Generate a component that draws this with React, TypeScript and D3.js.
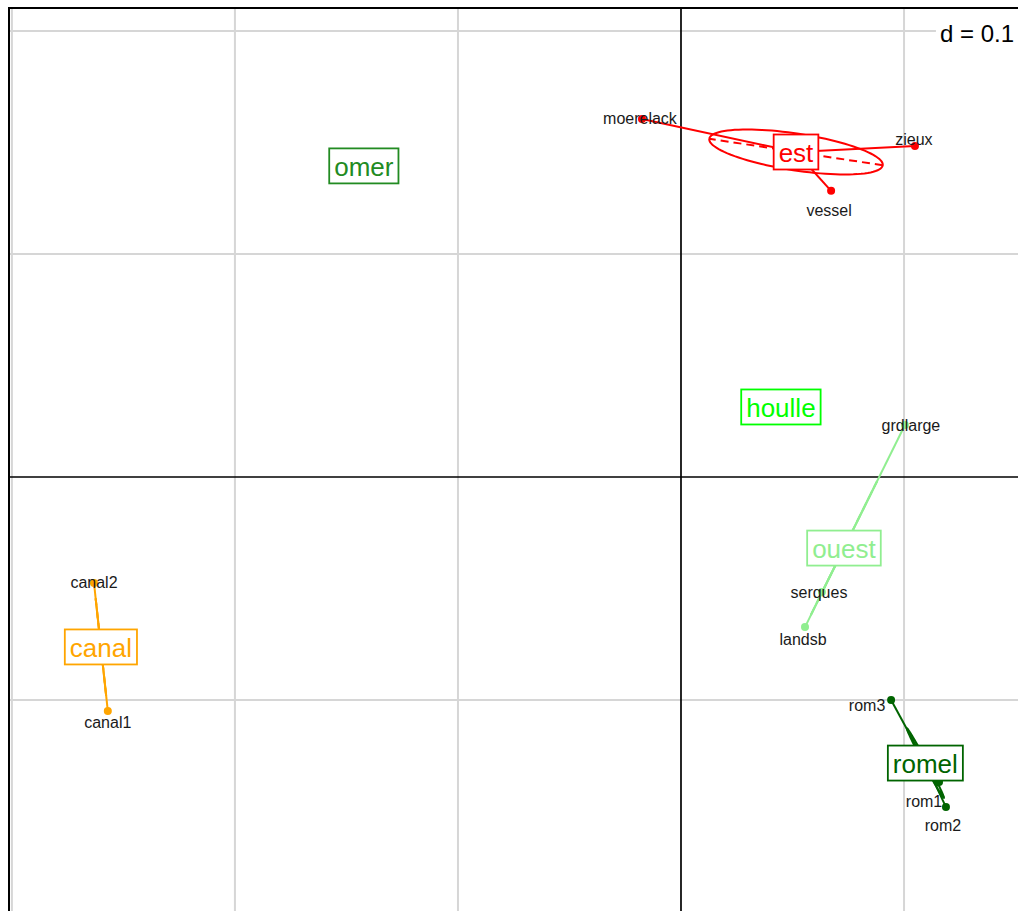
import React from 'react';
import * as d3 from 'd3';

// Group levels and their colours
const groups = ['est', 'omer', 'houlle', 'ouest', 'canal', 'romel'];
const groupColors = ['#FF0000', '#228B22', '#00FF00', '#90EE90', '#FFA500', '#006400'];

// Sites (rows) with their scores on the two axes
const siteNames = ['moerelack', 'zieux', 'vessel', 'grdlarge', 'serques', 'landsb', 'canal2', 'canal1', 'rom3', 'rom1', 'rom2'];
const siteGroup = ['est', 'est', 'est', 'ouest', 'ouest', 'ouest', 'canal', 'canal', 'romel', 'romel', 'romel'];
const siteX = [-0.0175, 0.1049, 0.0673, 0.1004, 0.0632, 0.0556, -0.2632, -0.2570, 0.0942, 0.1157, 0.1188];
const siteY = [0.1605, 0.1484, 0.1283, 0.0233, -0.0516, -0.0673, -0.0475, -0.1049, -0.1000, -0.1368, -0.1480];

// Levels with no site shown: label position only
const emptyGroups = ['omer', 'houlle'];
const emptyGroupX = [-0.1422, 0.0448];
const emptyGroupY = [0.1395, 0.0314];

// Grid
const gridX = [-0.3, -0.2, -0.1, 0.1];
const gridY = [0.2, 0.1, -0.1];
const gridLabel = 'd = 0.1';

// Plot limits
const xLim = [-0.3013, 0.1511];
const yLim = [-0.1946, 0.2103];

// Layout / style
const W = 1018;
const H = 911;
const FONT = '"Liberation Sans", Arial, Helvetica, sans-serif';
const ELLIPSE_COEF = 0.76;
// label nudges in pixels, one per site
const labelDx = [-2, -1, -2, 6, -3, -2, 0, 0, -24, -15, -3];
const labelDy = [-1, -7, 20, 0, 0, 12, 0, 12, 5, 19, 18];

const measure = (() => {
  let ctx: CanvasRenderingContext2D | null = null;
  return (text: string, size: number) => {
    if (!ctx) ctx = document.createElement('canvas').getContext('2d');
    if (!ctx) return text.length * size * 0.55;
    ctx.font = `${size}px "Liberation Sans", Arial, sans-serif`;
    return ctx.measureText(text).width;
  };
})();

export default function App() {
  const x = d3.scaleLinear().domain(xLim).range([9, W]);
  const y = d3.scaleLinear().domain(yLim).range([H, 8]);
  const color = d3.scaleOrdinal<string, string>().domain(groups).range(groupColors);

  const sites = siteNames.map((name, i) => ({ name, g: siteGroup[i], x: siteX[i], y: siteY[i], i }));
  const grouped = d3.group(sites, (d) => d.g);

  type Stat = { g: string; cx: number; cy: number; pts: typeof sites; ell: any };
  const stats: Stat[] = [];
  grouped.forEach((pts, g) => {
    const n = pts.length;
    const cx = d3.mean(pts, (p) => p.x)!;
    const cy = d3.mean(pts, (p) => p.y)!;
    const vx = d3.sum(pts, (p) => (p.x - cx) ** 2) / n;
    const vy = d3.sum(pts, (p) => (p.y - cy) ** 2) / n;
    const cxy = d3.sum(pts, (p) => (p.x - cx) * (p.y - cy)) / n;
    const delta = Math.sqrt((vx - vy) ** 2 + 4 * cxy * cxy);
    const l1 = (vx + vy + delta) / 2;
    const l2 = Math.max((vx + vy - delta) / 2, 0);
    const theta = Math.abs(cxy) < 1e-12 ? (vx >= vy ? 0 : Math.PI / 2) : Math.atan2(l1 - vx, cxy);
    const a = ELLIPSE_COEF * Math.sqrt(l1);
    const b = ELLIPSE_COEF * Math.sqrt(l2);
    const ux = Math.cos(theta), uy = Math.sin(theta);
    const outline = d3.range(0, 101).map((k) => {
      const t = (k / 100) * 2 * Math.PI;
      const px = cx + a * Math.cos(t) * ux - b * Math.sin(t) * uy;
      const py = cy + a * Math.cos(t) * uy + b * Math.sin(t) * ux;
      return [x(px), y(py)] as [number, number];
    });
    stats.push({
      g, cx, cy, pts,
      ell: {
        path: d3.line()(outline),
        major: [[cx - a * ux, cy - a * uy], [cx + a * ux, cy + a * uy]],
        minor: [[cx + b * uy, cy - b * ux], [cx - b * uy, cy + b * ux]],
      },
    });
  });

  const labels = [
    ...stats.map((s) => ({ g: s.g, x: s.cx, y: s.cy })),
    ...emptyGroups.map((g, i) => ({ g, x: emptyGroupX[i], y: emptyGroupY[i] })),
  ];

  const gridColor = '#D6D6D6';
  const dW = measure(gridLabel, 24);

  return (
    <svg width={W} height={H} style={{ position: 'absolute', left: 0, top: 0, background: '#fff' }} fontFamily={FONT}>
      <rect x={0} y={0} width={W} height={H} fill="#fff" />
      {/* grid */}
      {gridX.map((v) => (
        <line key={'gx' + v} x1={x(v)} x2={x(v)} y1={8} y2={H} stroke={gridColor} strokeWidth={2} />
      ))}
      {gridY.map((v) => (
        <line key={'gy' + v} x1={9} x2={W} y1={y(v)} y2={y(v)} stroke={gridColor} strokeWidth={2} />
      ))}
      {/* axes through the origin */}
      <line x1={x(0)} x2={x(0)} y1={8} y2={H} stroke="#000" strokeWidth={1.7} />
      <line x1={9} x2={W} y1={y(0)} y2={y(0)} stroke="#000" strokeWidth={1.7} />
      {/* frame */}
      <line x1={9} x2={9} y1={7} y2={H} stroke="#000" strokeWidth={2} />
      <line x1={8} x2={W} y1={8} y2={8} stroke="#000" strokeWidth={2} />

      {/* ellipses */}
      {stats.map((s) => (
        <g key={'e' + s.g} stroke={color(s.g)} fill="none" strokeWidth={2}>
          <path d={s.ell.path} />
          <line x1={x(s.ell.major[0][0])} y1={y(s.ell.major[0][1])} x2={x(s.ell.major[1][0])} y2={y(s.ell.major[1][1])} strokeDasharray="8,5" />
          <line x1={x(s.ell.minor[0][0])} y1={y(s.ell.minor[0][1])} x2={x(s.ell.minor[1][0])} y2={y(s.ell.minor[1][1])} strokeDasharray="8,5" />
        </g>
      ))}

      {/* stars */}
      {stats.map((s) => (
        <g key={'s' + s.g} stroke={color(s.g)} strokeWidth={2}>
          {s.pts.map((p) => (
            <line key={p.name} x1={x(s.cx)} y1={y(s.cy)} x2={x(p.x)} y2={y(p.y)} />
          ))}
        </g>
      ))}

      {/* points */}
      {sites.map((p) => (
        <circle key={'p' + p.name} cx={x(p.x)} cy={y(p.y)} r={4} fill={color(p.g)} />
      ))}

      {/* group labels */}
      {labels.map((l) => {
        const tw = measure(l.g, 26);
        const bw = tw + 10;
        const bh = 35;
        return (
          <g key={'l' + l.g}>
            <rect x={x(l.x) - bw / 2} y={y(l.y) - bh / 2} width={bw} height={bh} fill="#fff" stroke={color(l.g)} strokeWidth={1.8} />
            <text x={x(l.x)} y={y(l.y) + 10} textAnchor="middle" fontSize={26} fill={color(l.g)}>
              {l.g}
            </text>
          </g>
        );
      })}

      {/* site labels */}
      {sites.map((p) => (
        <text key={'t' + p.name} x={x(p.x) + labelDx[p.i]} y={y(p.y) + labelDy[p.i] + 5.5} textAnchor="middle" fontSize={16} fill="#1a1a1a">
          {p.name}
        </text>
      ))}

      {/* grid scale */}
      <rect x={1014 - dW - 4} y={21} width={dW + 8} height={26} fill="#fff" />
      <text x={1014} y={42} textAnchor="end" fontSize={24} fill="#000">
        {gridLabel}
      </text>
    </svg>
  );
}
